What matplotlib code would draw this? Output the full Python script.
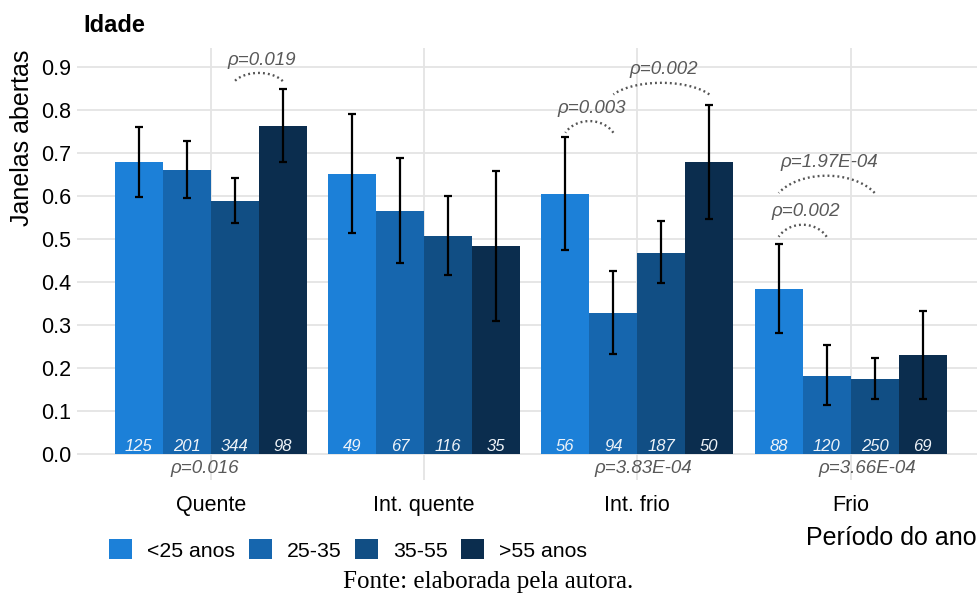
import numpy as np
import matplotlib
matplotlib.use("Agg")
import matplotlib.pyplot as plt

plt.rcParams['font.family'] = ['Liberation Sans', 'DejaVu Sans']

periods = ["Quente", "Int. quente", "Int. frio", "Frio"]
ages = ["<25 anos", "25-35", "35-55", ">55 anos"]
colors = ["#1c80d8", "#1666ae", "#114e84", "#0b2d4e"]

# mean share of open windows, one list per age group (over the 4 periods)
means = [
    [0.678, 0.651, 0.605, 0.384],
    [0.660, 0.566, 0.328, 0.181],
    [0.588, 0.507, 0.468, 0.175],
    [0.763, 0.484, 0.678, 0.230],
]
err_hi = [
    [0.761, 0.790, 0.738, 0.489],
    [0.727, 0.688, 0.426, 0.253],
    [0.641, 0.600, 0.542, 0.223],
    [0.849, 0.659, 0.812, 0.333],
]
err_lo = [
    [0.597, 0.513, 0.474, 0.281],
    [0.595, 0.444, 0.232, 0.113],
    [0.536, 0.416, 0.398, 0.127],
    [0.678, 0.310, 0.546, 0.129],
]
counts = [
    [125, 49, 56, 88],
    [201, 67, 94, 120],
    [344, 116, 187, 250],
    [98, 35, 50, 69],
]

# pairwise tests: period index, bar a, bar b, label, arc end y, arc peak y
pairs = [
    (0, 2, 3, "ρ=0.019", 0.867, 0.886),
    (2, 0, 1, "ρ=0.003", 0.747, 0.774),
    (2, 1, 3, "ρ=0.002", 0.836, 0.863),
    (3, 0, 2, "ρ=1.97E-04", 0.607, 0.647),
    (3, 0, 1, "ρ=0.002", 0.505, 0.533),
]
# overall tests below each period
overall = [(0, "ρ=0.016", -0.03), (2, "ρ=3.83E-04", 0.027), (3, "ρ=3.66E-04", 0.079)]

fig = plt.figure(figsize=(9.78, 5.96), dpi=100)
ax = fig.add_axes([77 / 978, 1 - 480 / 596, 901 / 978, 432 / 596])

x = np.arange(len(periods))
w = 0.225
offsets = (np.arange(len(ages)) - 1.5) * w

for i, age in enumerate(ages):
    m = np.array(means[i])
    yerr = [m - np.array(err_lo[i]), np.array(err_hi[i]) - m]
    ax.bar(x + offsets[i], m, w, color=colors[i], label=age, zorder=2)
    ax.errorbar(x + offsets[i], m, yerr=yerr, fmt="none", ecolor="black",
                elinewidth=1.6, capsize=3, capthick=1.6, zorder=3)
    for j in range(len(periods)):
        ax.text(x[j] + offsets[i], 0.018, str(counts[i][j]), ha="center",
                va="center", color="#eef3f8", style="italic", fontsize=12, zorder=4)

for g, a, b, label, y_end, y_peak in pairs:
    x1 = x[g] + offsets[a]
    x2 = x[g] + offsets[b]
    cx = (x1 + x2) / 2
    hw = (x2 - x1) / 2
    bb = 2 * (y_peak - y_end)
    cy = y_peak - bb
    t = np.radians(np.linspace(30, 150, 60))
    ax.plot(cx + hw / np.cos(np.radians(30)) * np.cos(t), cy + bb * np.sin(t),
            color="#555555", lw=1.7, linestyle=(0, (0.8, 1.3)), zorder=4)
    ax.text(cx + 0.012, y_peak + 0.03, label, ha="center", va="center",
            color="#595959", style="italic", fontsize=13.5)

for g, label, dx in overall:
    ax.text(x[g] + dx, -0.033, label, ha="center", va="center",
            color="#595959", style="italic", fontsize=13.5)

ax.set_xlim(-0.627, 3.597)
ax.set_ylim(-0.0605, 0.944)
ax.set_yticks(np.arange(0, 0.95, 0.1))
ax.set_yticklabels([f"{v:.1f}" for v in np.arange(0, 0.95, 0.1)])
ax.set_xticks(x)
ax.set_xticklabels(periods)
ax.tick_params(axis="y", length=0, pad=4, labelsize=15.5)
ax.tick_params(axis="x", length=0, pad=11, labelsize=15.5)
ax.grid(True, color="#e4e4e4", lw=1.3, zorder=0)
ax.set_axisbelow(True)
for s in ax.spines.values():
    s.set_visible(False)

fig.legend(loc="center left", bbox_to_anchor=(109 / 978, 1 - 550 / 596),
           ncol=4, frameon=False, fontsize=15.3, handlelength=1.08,
           handleheight=1.08, handletextpad=0.7, columnspacing=0.65,
           borderpad=0, borderaxespad=0)

fig.text(83 / 978, 1 - 25 / 596, "Idade", fontsize=17, fontweight="bold",
         ha="left", va="center")
fig.text(22 / 978, 1 - 138 / 596, "Janelas abertas", rotation=90, fontsize=18,
         ha="center", va="center")
fig.text(806 / 978, 1 - 538 / 596, "Período do ano", fontsize=18,
         ha="left", va="center")
fig.text(488 / 978, 1 - 582 / 596, "Fonte: elaborada pela autora.",
         family="Liberation Serif", fontsize=18, ha="center", va="center")

fig.savefig("out.png", dpi=100)
